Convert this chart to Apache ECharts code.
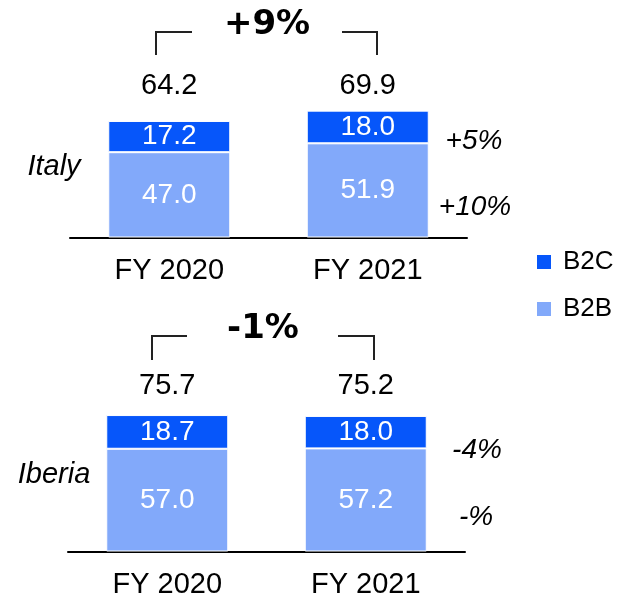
<!DOCTYPE html>
<html>
<head>
<meta charset="utf-8">
<script src="https://cdn.jsdelivr.net/npm/echarts@6/dist/echarts.min.js"></script>
<style>
  html, body { margin: 0; padding: 0; background: #fff; }
  #chart { width: 627px; height: 599px; }
</style>
</head>
<body>
<div id="chart"></div>
<script>
// data
const years = ['FY 2020', 'FY 2021']
const italyB2C = [17.2, 18.0]
const italyB2B = [47.0, 51.9]
const iberiaB2C = [18.7, 18.0]
const iberiaB2B = [57.0, 57.2]
const italyGrowth = ['+5%', '+10%'] // B2C, B2B
const iberiaGrowth = ['-4%', '-%']
const italyTotalGrowth = '+9%'
const iberiaTotalGrowth = '-1%'

const b2cColor = '#0656fa'
const b2bColor = '#82a9fa'
const font = 'Liberation Sans, Arial, sans-serif'

const sum = (a, b) => a.map((v, i) => (v + b[i]).toFixed(1))
const italyTotal = sum(italyB2C, italyB2B)
const iberiaTotal = sum(iberiaB2C, iberiaB2B)

function bottomAxis(grid) {
  return {
    type: 'category', gridIndex: grid, position: 'bottom', data: years,
    axisLine: { lineStyle: { color: '#000', width: 2 } },
    axisTick: { show: false },
    axisLabel: { color: '#000', fontSize: 29, margin: 33, verticalAlign: 'middle' }
  }
}
function topAxis(grid, totals, margin) {
  return {
    type: 'category', gridIndex: grid, position: 'top', data: years,
    axisLine: { show: false }, axisTick: { show: false },
    axisLabel: {
      color: '#000', fontSize: 29, margin: margin, verticalAlign: 'middle',
      formatter: (v, i) => totals[i]
    }
  }
}
function barSeries(name, data, color, stack, axis) {
  return {
    name: name, type: 'bar', stack: stack, data: data,
    xAxisIndex: axis, yAxisIndex: axis === 0 ? 0 : 1,
    barWidth: 122,
    itemStyle: { color: color, borderColor: '#fff', borderWidth: 1 },
    label: {
      show: true, position: 'inside', color: '#fff', fontSize: 28,
      formatter: p => p.value.toFixed(1)
    }
  }
}
function bracket(x1, x2, x3, x4, y1, y2) {
  return [
    { type: 'polyline', shape: { points: [[x1, y2], [x1, y1], [x2, y1]] },
      style: { stroke: '#222', lineWidth: 2, fill: null } },
    { type: 'polyline', shape: { points: [[x3, y1], [x4, y1], [x4, y2]] },
      style: { stroke: '#222', lineWidth: 2, fill: null } }
  ]
}
function txt(x, y, text, size, extra) {
  return {
    type: 'text', x: x, y: y,
    style: Object.assign({
      text: text, fontSize: size, fontFamily: font, fill: '#000',
      align: 'center', verticalAlign: 'middle'
    }, extra || {})
  }
}

const chart = echarts.init(document.getElementById('chart'))
chart.setOption({
  animation: false,
  textStyle: { fontFamily: font },
  grid: [
    { left: 70, right: 160, top: 92.3, bottom: 361.5 },
    { left: 68, right: 162, top: 407.3, bottom: 46.5 }
  ],
  xAxis: [
    bottomAxis(0), topAxis(0, italyTotal, 6),
    bottomAxis(1), topAxis(1, iberiaTotal, 21)
  ],
  yAxis: [
    { type: 'value', gridIndex: 0, min: 0, max: 80, show: false },
    { type: 'value', gridIndex: 1, min: 0, max: 80, show: false }
  ],
  legend: {
    data: ['B2C', 'B2B'], orient: 'vertical', left: 535, top: 249, padding: 0,
    icon: 'rect', itemWidth: 16, itemHeight: 16, itemGap: 21,
    textStyle: { fontSize: 26, color: '#000', padding: [0, 0, 0, 6] }
  },
  series: [
    barSeries('B2B', italyB2B, b2bColor, 'it', 0),
    barSeries('B2C', italyB2C, b2cColor, 'it', 0),
    barSeries('B2B', iberiaB2B, b2bColor, 'ib', 2),
    barSeries('B2C', iberiaB2C, b2cColor, 'ib', 2)
  ],
  graphic: [].concat(
    bracket(156, 192, 342, 377, 32, 55),
    bracket(152, 187, 338, 374, 336, 360),
    [
      txt(267, 25, italyTotalGrowth, 34, { fontFamily: 'DejaVu Sans', fontWeight: 'bold' }),
      txt(263, 329, iberiaTotalGrowth, 34, { fontFamily: 'DejaVu Sans', fontWeight: 'bold' }),
      txt(54, 167, 'Italy', 29, { fontStyle: 'italic' }),
      txt(54, 475, 'Iberia', 29, { fontStyle: 'italic' }),
      txt(474, 141, italyGrowth[0], 28, { fontStyle: 'italic' }),
      txt(475, 207, italyGrowth[1], 28, { fontStyle: 'italic' }),
      txt(477, 450, iberiaGrowth[0], 28, { fontStyle: 'italic' }),
      txt(476, 517, iberiaGrowth[1], 28, { fontStyle: 'italic' })
    ]
  )
})
</script>
</body>
</html>
